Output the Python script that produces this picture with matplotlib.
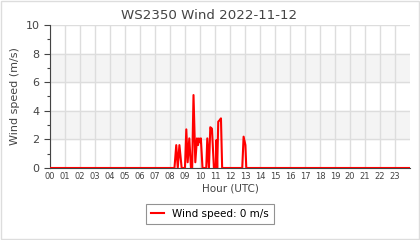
import numpy as np
import matplotlib
matplotlib.use("Agg")
import matplotlib.pyplot as plt
from matplotlib.patches import Rectangle

# data (hour in UTC, wind speed m/s)
hours = [0.0, 8.3, 8.42, 8.52, 8.63, 8.78, 9.0, 9.09, 9.18, 9.29, 9.4,
         9.48, 9.57, 9.69, 9.8, 9.87, 9.93, 10.0, 10.06, 10.17, 10.42, 10.49, 10.6,
         10.69, 10.8, 10.93, 11.05, 11.1, 11.15, 11.22, 11.32, 11.4, 11.48,
         12.82, 12.91, 13.03, 13.09, 24.0]
speed = [0.0, 0.0, 1.6, 0.0, 1.6, 0.0, 0.0, 2.7, 0.4, 2.07, 0.0,
         0.0, 5.1, 0.4, 2.07, 1.6, 2.07, 1.8, 2.07, 0.0, 0.0, 2.07, 0.0,
         2.85, 2.75, 0.0, 0.0, 1.96, 0.0, 3.24, 3.35, 3.47, 0.0,
         0.0, 2.19, 1.6, 0.0, 0.0]
hour_labels = ["%02d" % h for h in range(24)]

fig = plt.figure(figsize=(4.2, 2.4), dpi=100)
fig.patch.set_facecolor("white")
fig.patches.append(Rectangle((0.002, 0.004), 0.995, 0.992, transform=fig.transFigure,
                             fill=False, edgecolor="#dddddd", lw=1))
ax = fig.add_axes([0.119, 0.30, 0.857, 0.596])

# alternating bands
for lo in (2, 6):
    ax.axhspan(lo, lo + 2, color="#f4f4f4", zorder=0)

ax.plot(hours, speed, color="red", lw=1.5, zorder=3, label="Wind speed: 0 m/s")

ax.set_xlim(0, 24)
ax.set_ylim(0, 10)
ax.set_xticks(range(24))
ax.set_xticklabels(hour_labels, fontsize=6, color="#444444")
ax.set_yticks(range(0, 11, 2))
ax.set_yticks(range(1, 10, 2), minor=True)
ax.tick_params(axis="y", labelsize=8, colors="#444444", length=4, width=0.8)
ax.tick_params(axis="y", which="minor", length=2, width=0.8, color="#444444")
ax.tick_params(axis="x", length=0, pad=3)
ax.grid(True, color="#dddddd", lw=1, zorder=1)
ax.set_axisbelow(True)
for s in ("top", "right"):
    ax.spines[s].set_visible(False)
ax.spines["left"].set_color("#444444")
ax.spines["bottom"].set_color("#444444")

fig.text(0.498, 0.935, "WS2350 Wind 2022-11-12", fontsize=9.6, color="#444444",
         ha="center", va="center")
ax.set_xlabel("Hour (UTC)", fontsize=7.5, color="#444444", labelpad=2)
ax.set_ylabel("Wind speed (m/s)", fontsize=8, color="#444444", labelpad=4)

leg = fig.legend(loc="center", bbox_to_anchor=(0.5, 0.108), fontsize=7.5,
                 fancybox=False, edgecolor="#777777", handlelength=1.2,
                 borderpad=0.5)
leg.get_frame().set_linewidth(0.8)

fig.savefig("out.png", dpi=100)
